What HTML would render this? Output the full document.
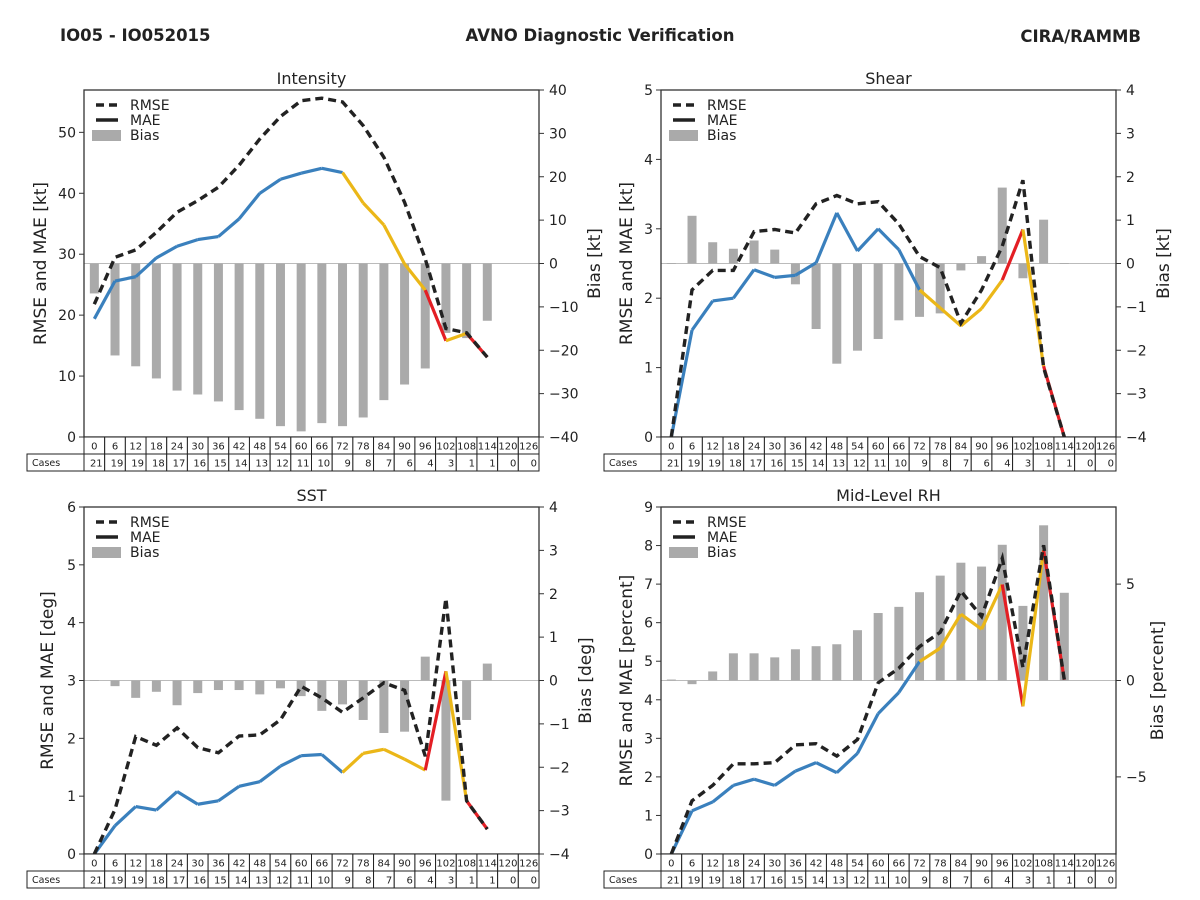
<!DOCTYPE html>
<html><head><meta charset="utf-8"><style>
html,body{margin:0;padding:0;background:#fff;}
svg{display:block;font-family:"DejaVu Sans","Liberation Sans",sans-serif;}
</style></head><body>
<svg id="chart" width="1200" height="900" viewBox="0 0 1200 900" xmlns="http://www.w3.org/2000/svg">
<rect width="1200" height="900" fill="#fff"/>
<text x="60" y="41" font-size="16.5" font-weight="bold" fill="#222">IO05 - IO052015</text>
<text x="600" y="41" font-size="16.5" font-weight="bold" fill="#222" text-anchor="middle">AVNO Diagnostic Verification</text>
<text x="1141" y="42" font-size="16.5" font-weight="bold" fill="#222" text-anchor="end">CIRA/RAMMB</text>
</svg>
<script>
const hours = [0,6,12,18,24,30,36,42,48,54,60,66,72,78,84,90,96,102,108,114,120,126];
const cases = [21,19,19,18,17,16,15,14,13,12,11,10,9,8,7,6,4,3,1,1,0,0];
const segColors = ['b','b','b','b','b','b','b','b','b','b','b','b','y','y','y','y','r','y','r'];

const intensityMae = [19.4,25.6,26.3,29.4,31.3,32.4,32.9,35.8,40.0,42.3,43.3,44.1,43.4,38.4,34.8,28.4,24.1,15.8,17.0,13.1];
const intensityRmse = [21.8,29.5,30.7,33.6,36.9,38.8,41.0,44.6,48.9,52.6,55.2,55.6,55.0,51.1,45.9,38.5,29.2,17.8,17.1,13.1];
const intensityBias = [-6.9,-21.2,-23.7,-26.5,-29.3,-30.2,-31.8,-33.8,-35.8,-37.5,-38.7,-36.8,-37.5,-35.5,-31.5,-27.9,-24.2,-16.0,-17.2,-13.2];

const shearMae = [0,1.54,1.96,2.0,2.41,2.30,2.33,2.51,3.23,2.68,3.0,2.70,2.12,1.86,1.60,1.85,2.26,2.99,1.02,0];
const shearRmse = [0,2.12,2.40,2.40,2.96,2.99,2.94,3.36,3.48,3.36,3.39,3.07,2.60,2.44,1.64,2.12,2.75,3.70,1.0,0];
const shearBias = [0.01,1.10,0.49,0.34,0.53,0.32,-0.48,-1.51,-2.31,-2.01,-1.74,-1.31,-1.23,-1.15,-0.16,0.17,1.75,-0.34,1.01,0.01];

const sstMae = [0,0.49,0.82,0.76,1.08,0.86,0.92,1.17,1.25,1.52,1.70,1.72,1.41,1.74,1.81,1.64,1.45,3.16,0.92,0.43];
const sstRmse = [0,0.77,2.03,1.88,2.18,1.84,1.75,2.04,2.06,2.32,2.90,2.70,2.45,2.70,2.96,2.83,1.69,4.42,0.92,0.43];
const sstBias = [0.01,-0.13,-0.40,-0.26,-0.57,-0.29,-0.22,-0.22,-0.32,-0.18,-0.36,-0.70,-0.55,-0.91,-1.21,-1.18,0.55,-2.77,-0.91,0.39];

const rhMae = [0,1.12,1.35,1.78,1.94,1.78,2.15,2.37,2.11,2.61,3.64,4.19,4.99,5.34,6.22,5.83,6.99,3.83,7.88,4.52];
const rhRmse = [0,1.38,1.78,2.34,2.34,2.37,2.83,2.86,2.54,2.97,4.44,4.82,5.38,5.75,6.82,6.16,7.67,4.84,8.01,4.52];
const rhBias = [0.05,-0.19,0.47,1.41,1.41,1.20,1.62,1.78,1.88,2.61,3.50,3.82,4.58,5.44,6.11,5.91,7.04,3.87,8.05,4.55];

const intensityLeftTicks = [0,10,20,30,40,50];
const intensityRightTicks = [-40,-30,-20,-10,0,10,20,30,40];
const shearLeftTicks = [0,1,2,3,4,5];
const shearRightTicks = [-4,-3,-2,-1,0,1,2,3,4];
const sstLeftTicks = [0,1,2,3,4,5,6];
const sstRightTicks = [-4,-3,-2,-1,0,1,2,3,4];
const rhLeftTicks = [0,1,2,3,4,5,6,7,8,9];
const rhRightTicks = [-5,0,5];

const COL = {b:'#3a80bd', y:'#ebb718', r:'#e31e24'};
const NS = 'http://www.w3.org/2000/svg';
const svg = document.getElementById('chart');
function mk(tag, attrs, parent){
  const e = document.createElementNS(NS, tag);
  for (const k in attrs) e.setAttribute(k, attrs[k]);
  (parent||svg).appendChild(e);
  return e;
}
function txt(s, attrs, parent){ const e = mk('text', attrs, parent); e.textContent = s; return e; }
function fmtMinus(v){ return v < 0 ? '\u2212' + Math.abs(v) : '' + v; }

function panel(p){
  const g = mk('g', {});
  
  
  const colW = (p.x1 - p.x0) / hours.length;
  const xs = i => p.x0 + (i + 0.5) * colW;
  const yl = v => p.y1 - (v / p.lmax) * (p.y1 - p.y0);
  const yr = v => p.y1 - ((v - p.rmin) / (p.rmax - p.rmin)) * (p.y1 - p.y0);

  const t = txt(p.title, {x:(p.x0+p.x1)/2, y:p.y0-6, 'font-size':16, 'text-anchor':'middle', fill:'#222'}, g);
  
  

  const z = mk('line', {x1:p.x0, x2:p.x1, y1:yr(0), y2:yr(0), stroke:'#bbb', 'stroke-width':1}, g);
  
  

  p.bias.forEach((v, i) => {
    const y0 = yr(0), y1v = yr(v);
    const r = mk('rect', {x:xs(i)-4.5, y:Math.min(y0,y1v), width:9, height:Math.max(Math.abs(y1v-y0),0.8), fill:'#aaaaaa'}, g);
    
    
  });

  for (let i = 0; i < p.mae.length - 1; i++) {
    const l = mk('line', {x1:xs(i), y1:yl(p.mae[i]), x2:xs(i+1), y2:yl(p.mae[i+1]), stroke:COL[segColors[i]], 'stroke-width':3.2, 'stroke-linecap':'butt'}, g);
    
    
  }
  const pts = p.rmse.map((v,i) => xs(i).toFixed(1) + ',' + yl(v).toFixed(1)).join(' ');
  const rl = mk('polyline', {points:pts, fill:'none', stroke:'#222', 'stroke-width':3.4, 'stroke-dasharray':'8,5'}, g);
  
  

  const f = mk('rect', {x:p.x0, y:p.y0, width:p.x1-p.x0, height:p.y1-p.y0, fill:'none', stroke:'#333', 'stroke-width':1.3}, g);
  
  

  p.lticks.forEach(v => {
    mk('line', {x1:p.x0-5, x2:p.x0, y1:yl(v), y2:yl(v), stroke:'#333', 'stroke-width':1}, g);
    const tl = txt(String(v), {x:p.x0-8, y:yl(v)+5, 'font-size':14, 'text-anchor':'end', fill:'#222'}, g);
    
    
  });
  p.rticks.forEach(v => {
    mk('line', {x1:p.x1, x2:p.x1+5, y1:yr(v), y2:yr(v), stroke:'#333', 'stroke-width':1}, g);
    const tr = txt(fmtMinus(v), {x:p.x1+10, y:yr(v)+5, 'font-size':14, fill:'#222'}, g);
    
    
  });

  const cy = (p.y0+p.y1)/2;
  const la = txt(p.ylabel, {x:p.lx, y:cy, 'font-size':17, 'text-anchor':'middle', fill:'#222', transform:'rotate(-90 '+p.lx+' '+cy+')'}, g);
  
  
  const ra = txt(p.rlabel, {x:p.rx, y:cy, 'font-size':17, 'text-anchor':'middle', fill:'#222', transform:'rotate(-90 '+p.rx+' '+cy+')'}, g);
  
  

  const lg = mk('g', {}, g);
  
  
  const lx = p.x0 + 12, ly = p.y0 + 15;
  mk('line', {x1:lx, x2:lx+22, y1:ly, y2:ly, stroke:'#222', 'stroke-width':3.4, 'stroke-dasharray':'8,5'}, lg);
  txt('RMSE', {x:lx+34, y:ly+5, 'font-size':14, fill:'#222'}, lg);
  mk('line', {x1:lx, x2:lx+22, y1:ly+15, y2:ly+15, stroke:'#222', 'stroke-width':3.4}, lg);
  txt('MAE', {x:lx+34, y:ly+20, 'font-size':14, fill:'#222'}, lg);
  mk('rect', {x:lx-4, y:ly+25, width:29, height:11, fill:'#aaaaaa'}, lg);
  txt('Bias', {x:lx+34, y:ly+35, 'font-size':14, fill:'#222'}, lg);

  const tg = mk('g', {}, g);
  
  
  const ty = p.y1, rh = 17;
  hours.forEach((h, i) => {
    const cx = p.x0 + i*colW;
    mk('rect', {x:cx, y:ty, width:colW, height:rh, fill:'#fff', stroke:'#222', 'stroke-width':1}, tg);
    txt(String(h), {x:cx+colW/2, y:ty+12.5, 'font-size':10, 'text-anchor':'middle', fill:'#222'}, tg);
    mk('rect', {x:cx, y:ty+rh, width:colW, height:rh, fill:'#fff', stroke:'#222', 'stroke-width':1}, tg);
    txt(String(cases[i]), {x:cx+colW-2, y:ty+rh+12.5, 'font-size':10, 'text-anchor':'end', fill:'#222'}, tg);
  });
  mk('rect', {x:p.x0-57, y:ty+rh, width:57, height:rh, fill:'#fff', stroke:'#222', 'stroke-width':1}, tg);
  txt('Cases', {x:p.x0-52, y:ty+rh+12, 'font-size':9.5, fill:'#222'}, tg);
}

panel({key:'intensity', title:'Intensity', x0:84, x1:539, y0:90, y1:437, lmax:56.95, rmin:-40, rmax:40,
  lticks:intensityLeftTicks, rticks:intensityRightTicks, mae:intensityMae, rmse:intensityRmse, bias:intensityBias,
  ylabel:'RMSE and MAE [kt]', rlabel:'Bias [kt]', lx:46, rx:600});
panel({key:'shear', title:'Shear', x0:661, x1:1116, y0:90, y1:437, lmax:5, rmin:-4, rmax:4,
  lticks:shearLeftTicks, rticks:shearRightTicks, mae:shearMae, rmse:shearRmse, bias:shearBias,
  ylabel:'RMSE and MAE [kt]', rlabel:'Bias [kt]', lx:632, rx:1169});
panel({key:'sst', title:'SST', x0:84, x1:539, y0:507, y1:854, lmax:6, rmin:-4, rmax:4,
  lticks:sstLeftTicks, rticks:sstRightTicks, mae:sstMae, rmse:sstRmse, bias:sstBias,
  ylabel:'RMSE and MAE [deg]', rlabel:'Bias [deg]', lx:53, rx:591});
panel({key:'rh', title:'Mid-Level RH', x0:661, x1:1116, y0:507, y1:854, lmax:9, rmin:-9, rmax:9,
  lticks:rhLeftTicks, rticks:rhRightTicks, mae:rhMae, rmse:rhRmse, bias:rhBias,
  ylabel:'RMSE and MAE [percent]', rlabel:'Bias [percent]', lx:632, rx:1163});
</script>
</body></html>
